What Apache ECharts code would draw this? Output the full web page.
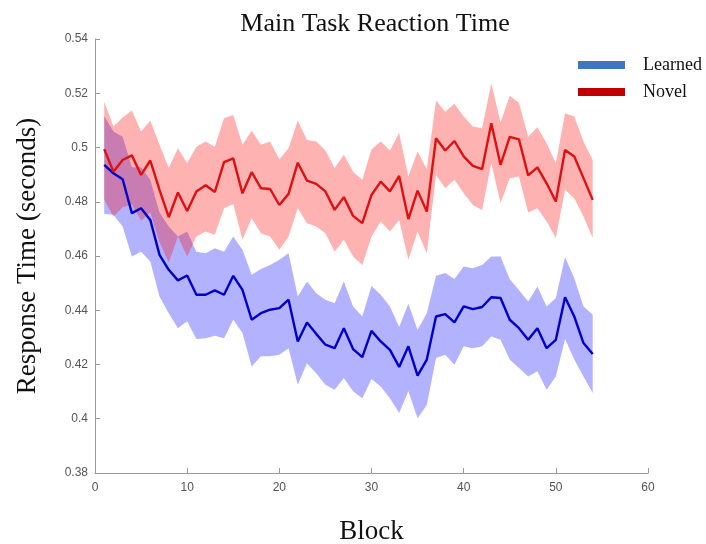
<!DOCTYPE html>
<html>
<head>
<meta charset="utf-8">
<script src="https://cdn.jsdelivr.net/npm/echarts@6/dist/echarts.min.js"></script>
<style>html,body{margin:0;padding:0;background:#fff;overflow:hidden;}#c{width:706px;height:544px;}</style>
</head>
<body>
<div id="c"></div>
<script>
var blocks = [1,2,3,4,5,6,7,8,9,10,11,12,13,14,15,16,17,18,19,20,21,22,23,24,25,26,27,28,29,30,31,32,33,34,35,36,37,38,39,40,41,42,43,44,45,46,47,48,49,50,51,52,53,54];

var learnedMean = [0.4936,0.4905,0.4883,0.4758,0.4776,0.4733,0.4604,0.4549,0.4510,0.4528,0.4457,0.4457,0.4473,0.4457,0.4527,0.4475,0.4365,0.4389,0.4402,0.4408,0.4439,0.4285,0.4355,0.4313,0.4273,0.4260,0.4334,0.4257,0.4227,0.4324,0.4285,0.4254,0.4191,0.4267,0.4159,0.4218,0.4377,0.4386,0.4355,0.4414,0.4404,0.4412,0.4448,0.4445,0.4365,0.4334,0.4291,0.4334,0.4260,0.4291,0.4448,0.4377,0.4279,0.4239];
var learnedUpper = [0.5116,0.5059,0.5040,0.4927,0.4927,0.4881,0.4760,0.4709,0.4672,0.4690,0.4616,0.4610,0.4629,0.4616,0.4672,0.4623,0.4531,0.4552,0.4567,0.4586,0.4610,0.4451,0.4506,0.4463,0.4439,0.4426,0.4506,0.4414,0.4377,0.4489,0.4457,0.4414,0.4338,0.4424,0.4328,0.4389,0.4527,0.4537,0.4515,0.4561,0.4555,0.4567,0.4598,0.4598,0.4514,0.4475,0.4432,0.4488,0.4414,0.4445,0.4596,0.4518,0.4414,0.4383];
var learnedLower = [0.4756,0.4752,0.4709,0.4598,0.4616,0.4580,0.4451,0.4389,0.4334,0.4359,0.4294,0.4297,0.4306,0.4297,0.4365,0.4316,0.4193,0.4230,0.4230,0.4236,0.4260,0.4125,0.4205,0.4168,0.4125,0.4107,0.4150,0.4101,0.4076,0.4147,0.4119,0.4076,0.4021,0.4101,0.4002,0.4051,0.4224,0.4236,0.4199,0.4267,0.4260,0.4267,0.4303,0.4291,0.4218,0.4187,0.4156,0.4175,0.4107,0.4156,0.4294,0.4218,0.4156,0.4095];

var novelMean = [0.4994,0.4911,0.4954,0.4971,0.4899,0.4952,0.4844,0.4743,0.4834,0.4766,0.4838,0.4861,0.4836,0.4946,0.4960,0.4831,0.4909,0.4850,0.4847,0.4788,0.4829,0.4944,0.4878,0.4866,0.4838,0.4770,0.4817,0.4748,0.4721,0.4825,0.4874,0.4838,0.4895,0.4736,0.4841,0.4764,0.5034,0.4989,0.5024,0.4967,0.4932,0.4920,0.5089,0.4936,0.5039,0.5030,0.4897,0.4927,0.4868,0.4801,0.4991,0.4967,0.4887,0.4807];
var novelUpper = [0.5169,0.5077,0.5111,0.5136,0.5059,0.5099,0.5010,0.4924,0.4997,0.4942,0.5003,0.5022,0.5003,0.5108,0.5120,0.5010,0.5062,0.5010,0.5022,0.4957,0.4997,0.5099,0.5028,0.5022,0.4989,0.4924,0.4973,0.4911,0.4881,0.4994,0.5022,0.4989,0.5053,0.4893,0.4985,0.4920,0.5173,0.5132,0.5161,0.5114,0.5077,0.5071,0.5237,0.5092,0.5191,0.5165,0.5040,0.5075,0.5016,0.4942,0.5126,0.5114,0.5022,0.4954];
var novelLower = [0.4807,0.4746,0.4780,0.4790,0.4730,0.4760,0.4651,0.4576,0.4672,0.4598,0.4672,0.4690,0.4678,0.4776,0.4792,0.4660,0.4739,0.4684,0.4672,0.4623,0.4672,0.4776,0.4721,0.4709,0.4684,0.4616,0.4660,0.4598,0.4567,0.4672,0.4727,0.4690,0.4733,0.4586,0.4690,0.4610,0.4899,0.4850,0.4881,0.4831,0.4788,0.4770,0.4942,0.4795,0.4887,0.4893,0.4760,0.4776,0.4727,0.4666,0.4844,0.4813,0.4746,0.4666];

var xTicks = [0,10,20,30,40,50,60];
var yTicks = [0.38,0.40,0.42,0.44,0.46,0.48,0.50,0.52,0.54];

function pairs(arr){ return blocks.map(function(b,i){ return [b, arr[i]]; }); }

var serif = "'Liberation Serif', 'DejaVu Serif', serif";
var sans = "'Liberation Sans', Arial, sans-serif";

// band drawn as one polygon through the axes' coordinate system
function band(upper, lower, color){
  return {
    type:'custom', silent:true, z:1,
    data:[[blocks[0], upper[0]]],
    encode:{x:0, y:1},
    renderItem:function(params, api){
      var pts = [];
      for (var i = 0; i < blocks.length; i++) pts.push(api.coord([blocks[i], upper[i]]));
      for (var j = blocks.length - 1; j >= 0; j--) pts.push(api.coord([blocks[j], lower[j]]));
      return {type:'polygon', shape:{points:pts}, style:{fill:color, stroke:null}};
    }
  };
}

var chart = echarts.init(document.getElementById('c'), null, {renderer:'canvas'});
chart.setOption({
  animation:false,
  backgroundColor:'#fff',
  title:{text:'Main Task Reaction Time', left:370, textAlign:'center', top:6,
    textStyle:{fontFamily:serif, fontSize:26, fontWeight:'normal', color:'#111'}},
  legend:{
    orient:'vertical', left:578, top:56, padding:0, itemWidth:47, itemHeight:8, itemGap:9,
    icon:'rect',
    textStyle:{fontFamily:serif, fontSize:18, color:'#111', padding:[0,0,0,13]},
    data:[{name:'Learned', itemStyle:{color:'#4472C4'}}, {name:'Novel', itemStyle:{color:'#C00000'}}]
  },
  grid:{left:95, right:58, top:39, bottom:71, containLabel:false, outerBoundsMode:'none'},
  xAxis:{type:'value', min:xTicks[0], max:xTicks[xTicks.length-1], interval:10,
    name:'Block', nameLocation:'middle', nameGap:45,
    nameTextStyle:{fontFamily:serif, fontSize:27, color:'#111'},
    axisLine:{show:true, onZero:false, lineStyle:{color:'#999', width:1}},
    axisTick:{show:true, inside:true, length:5, lineStyle:{color:'#999'}},
    axisLabel:{fontFamily:sans, fontSize:12, color:'#555', margin:9},
    splitLine:{show:false}},
  yAxis:{type:'value', min:yTicks[0], max:yTicks[yTicks.length-1], interval:0.02,
    name:'Response Time (seconds)', nameLocation:'middle', nameGap:54, nameRotate:90,
    nameTextStyle:{fontFamily:serif, fontSize:27, color:'#111'},
    axisLine:{show:true, onZero:false, lineStyle:{color:'#999', width:1}},
    axisTick:{show:true, inside:true, length:5, lineStyle:{color:'#999'}},
    axisLabel:{fontFamily:sans, fontSize:12, color:'#555', margin:7,
      formatter:function(v){ return String(+v.toFixed(2)); }},
    splitLine:{show:false}},
  series:[
    band(learnedUpper, learnedLower, 'rgba(0,0,255,0.3)'),
    band(novelUpper, novelLower, 'rgba(255,0,0,0.3)'),
    {name:'Learned', type:'line', data:pairs(learnedMean), showSymbol:false,
      lineStyle:{color:'#0000C8', width:2.4}, itemStyle:{color:'#0000C8'}, z:3},
    {name:'Novel', type:'line', data:pairs(novelMean), showSymbol:false,
      lineStyle:{color:'#DD1111', width:2.4}, itemStyle:{color:'#DD1111'}, z:3}
  ]
});
</script>
</body>
</html>
